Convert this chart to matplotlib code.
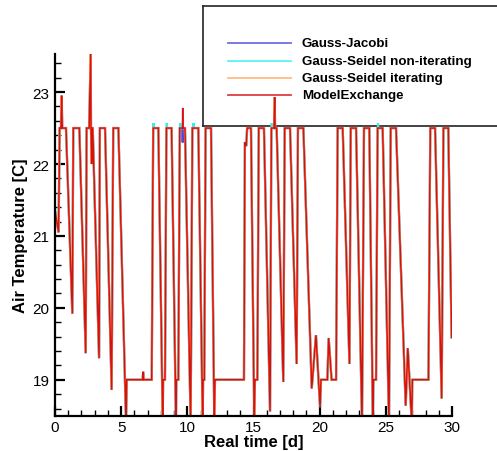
import numpy as np
import matplotlib
matplotlib.use("Agg")
import matplotlib.pyplot as plt
from matplotlib.ticker import MultipleLocator

plt.rcParams['font.family'] = ['Liberation Sans', 'DejaVu Sans']

# common waveform (time [d], temperature [C])
base_t = [0.0, 0.27, 0.35, 0.45, 0.5, 0.55, 0.83, 1.31, 1.38, 1.84, 2.32, 2.39, 2.58, 2.70,
          2.72, 2.77, 2.79, 2.85, 3.33, 3.39, 3.78, 4.28, 4.40, 4.79, 5.37, 5.42, 6.62, 6.67,
          6.70, 7.31, 7.42, 7.81, 8.14, 8.17, 8.31, 8.42, 8.81, 9.14, 9.17, 9.32, 9.43, 9.82,
          10.25, 10.38, 10.45, 10.83, 11.16, 11.19, 11.28, 11.38, 11.79, 12.04, 12.09, 14.28,
          14.35, 14.45, 14.52, 14.81, 15.06, 15.11, 15.29, 15.40, 15.79, 16.25, 16.35, 16.55,
          16.60, 16.63, 16.75, 17.25, 17.36, 17.76, 18.26, 18.36, 18.77, 19.40, 19.72, 20.03,
          20.10, 20.58, 20.68, 20.90, 21.24, 21.36, 21.74, 22.25, 22.35, 22.75, 23.20, 23.35,
          23.75, 24.02, 24.06, 24.26, 24.38, 24.76, 25.24, 25.37, 25.77, 26.50, 26.66, 26.96,
          27.00, 28.22, 28.36, 28.72, 29.22, 29.35, 29.72, 29.97]
base_T = [21.35, 21.05, 22.5, 22.5, 22.95, 22.5, 22.5, 19.92, 22.5, 22.5, 19.37, 22.5, 22.5, 23.55,
          22.5, 22.0, 22.5, 22.5, 19.30, 22.5, 22.5, 18.86, 22.5, 22.5, 18.4, 19.0, 19.0, 19.11,
          19.0, 19.0, 22.5, 22.5, 18.4, 19.0, 19.0, 22.5, 22.5, 18.4, 19.0, 19.0, 22.5, 22.5,
          18.4, 22.5, 22.5, 22.5, 18.4, 19.0, 19.0, 22.5, 22.5, 18.4, 19.0, 19.0,
          22.3, 22.25, 22.5, 22.5, 18.4, 19.0, 19.0, 22.5, 22.5, 18.56, 22.5, 22.5,
          22.93, 22.5, 22.5, 18.97, 22.5, 22.5, 19.22, 22.5, 22.5, 18.88, 19.62, 18.62,
          19.0, 19.0, 19.58, 19.0, 19.0, 22.5, 22.5, 19.22, 22.5, 22.5, 18.4, 22.5,
          22.5, 18.4, 19.0, 19.0, 22.5, 22.5, 18.4, 22.5, 22.5, 18.64, 19.44, 18.4,
          19.0, 19.0, 22.5, 22.5, 18.74, 22.5, 22.5, 19.59]

# small per-series deviations
jacobi_t = [9.63, 9.65, 9.67]
jacobi_T = [22.5, 22.3, 22.5]
gs_non_t = [7.43, 7.44, 7.45, 8.44, 8.45, 8.46, 9.45, 9.46, 9.47, 10.46, 10.47, 10.48,
            16.37, 16.38, 16.39, 24.40, 24.41, 24.42]
gs_non_T = [22.5, 22.57, 22.5] * 6
gs_it_t = []
gs_it_T = []
me_t = [9.63, 9.65, 9.67]
me_T = [22.5, 22.78, 22.5]

labels = ["Gauss-Jacobi", "Gauss-Seidel non-iterating", "Gauss-Seidel iterating", "ModelExchange"]
colors = ["#4a4ae0", "#30f0f0", "#ffaa66", "#d81010"]
widths = [1.6, 1.6, 1.6, 1.1]


def merge(ex_t, ex_T):
    t = np.array(base_t + ex_t)
    T = np.array(base_T + ex_T)
    order = np.argsort(t, kind="stable")
    return t[order], T[order]


series = [merge(jacobi_t, jacobi_T), merge(gs_non_t, gs_non_T),
          merge(gs_it_t, gs_it_T), merge(me_t, me_T)]

W, H = 497, 452
fig = plt.figure(figsize=(W / 100, H / 100), dpi=100)

# legend box (drawn below the data axes)
lg = fig.add_axes([202.7 / W, 1 - 126.5 / H, 0.75, 119.8 / H])
lg.set_xticks([])
lg.set_yticks([])
for s in lg.spines.values():
    s.set_linewidth(1.2)
    s.set_color("#222222")

ax = fig.add_axes([55 / W, 1 - 416.7 / H, 397 / W, 361.7 / H])
ax.patch.set_alpha(0)

for (t, T), c, lw in zip(series, colors, widths):
    ax.plot(t, T, color=c, lw=lw, solid_joinstyle="miter")

ax.set_xlim(0, 30)
ax.set_ylim(18.5, 23.53)
ax.spines['top'].set_visible(False)
ax.spines['right'].set_visible(False)
ax.spines['left'].set_linewidth(1.6)
ax.spines['bottom'].set_linewidth(1.6)
ax.xaxis.set_major_locator(MultipleLocator(5))
ax.xaxis.set_minor_locator(MultipleLocator(1))
ax.yaxis.set_major_locator(MultipleLocator(1))
ax.yaxis.set_minor_locator(MultipleLocator(0.2))
ax.tick_params(which="major", direction="in", length=7.5, width=1.6, labelsize=11, pad=4)
ax.tick_params(axis="x", which="major", pad=3)
ax.tick_params(which="minor", direction="in", length=4, width=1.0)
ax.set_xlabel("Real time [d]", fontsize=12, fontweight="bold", va="top")
ax.xaxis.set_label_coords(0.5, -(435 - 416.7) / 361.7)
ax.set_ylabel("Air Temperature [C]", fontsize=12, fontweight="bold", labelpad=3)

# legend entries
ys = [44, 61.7, 79, 96]
for lab, c, y in zip(labels, colors, ys):
    fig.add_artist(plt.Line2D([228 / W, 291 / W], [1 - y / H, 1 - y / H], color=c,
                              lw=1.3, alpha=0.8, transform=fig.transFigure))
    fig.text(302 / W, 1 - y / H, lab, fontsize=9.6, fontweight="bold", va="center", ha="left")

fig.savefig("out.png", dpi=100)
